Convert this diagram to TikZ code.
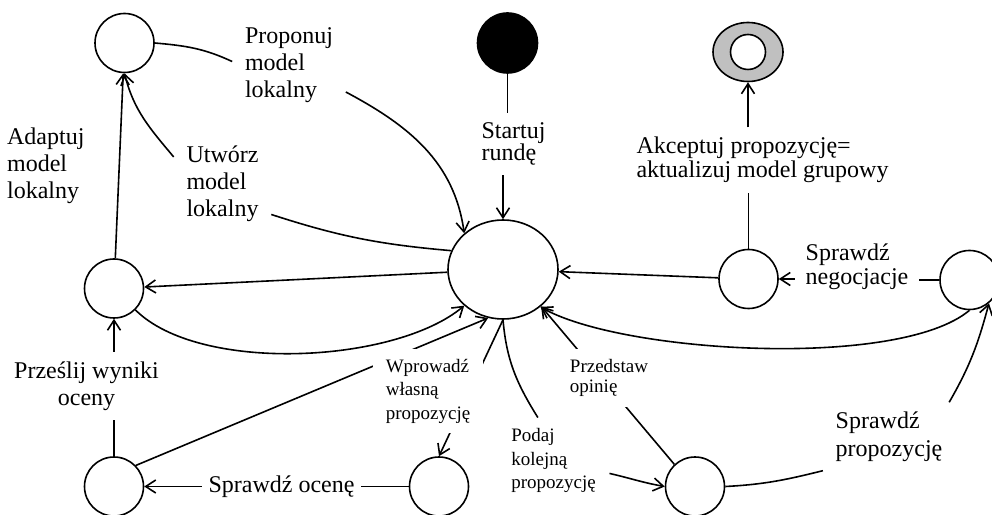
\documentclass[tikz,border=0pt]{standalone}
\usepackage{fontspec}
\setmainfont{Liberation Serif}
\usepackage{xcolor}
\usepackage{tikz}
\usetikzlibrary{arrows.meta,shapes.geometric}
\definecolor{Silver}{HTML}{C0C0C0}

\begin{document}
\begin{tikzpicture}[
    x=1pt,y=1pt,
    line width=1.6pt,
    state/.style={circle,draw,minimum size=59pt,inner sep=0pt},
    bigstate/.style={ellipse,draw,minimum width=110pt,minimum height=99pt,inner sep=0pt},
    startstate/.style={circle,draw,fill=black,minimum size=60pt,inner sep=0pt},
    endstate/.style={ellipse,draw,fill=Silver,minimum width=70pt,minimum height=59pt,inner sep=0pt},
    lbl/.style={align=left,font=\fontsize{24}{27}\selectfont,inner xsep=12pt,inner ysep=9pt},
    smalllbl/.style={align=left,font=\fontsize{19}{23.5}\selectfont,inner xsep=13pt,inner ysep=10pt,fill=white},
    arrow/.style={-{Straight Barb[length=10pt,width=13pt]}},
    plain/.style={-}
]
\useasboundingbox (0,0) rectangle (992,514);
\node[state] (A) at (124.5,471) {};
\node[startstate] (start) at (507.5,471) {};
\node[endstate] (endst) at (748,462) {};
\draw[fill=white] (endst.center) circle (17.5pt);
\node[bigstate] (big) at (503,244.5) {};
\node[state] (B) at (114,225.5) {};
\node[state] (C) at (114,27.5) {};
\node[state] (D) at (439,27.5) {};
\node[state] (E) at (695,27.5) {};
\node[state] (F) at (748.5,235) {};
\node[state] (G) at (969.5,234) {};
\node[lbl] (pplbl) at (289,448.5) {Proponuj\\model\\lokalny};
\node[lbl] (utlbl) at (222.5,330) {Utwórz\\model\\lokalny};
\node[lbl,font=\fontsize{24}{22}\selectfont] (srlbl) at (513.5,370) {Startuj\\rundę};
\node[lbl,font=\fontsize{24}{24}\selectfont] (aklbl) at (762.5,354) {Akceptuj propozycję=\\aktualizuj model grupowy};
\node[lbl,font=\fontsize{24}{24}\selectfont,inner xsep=10pt] (snlbl) at (857,247) {Sprawdź\\negocjacje};
\node[lbl,font=\fontsize{24}{28}\selectfont] (splbl) at (889,77) {Sprawdź\\propozycję};
\node[lbl,align=center] (prlbl) at (86.5,128) {Prześlij wyniki\\oceny};
\node[lbl,inner xsep=6pt] (solbl) at (281.5,27) {Sprawdź ocenę};
\node[smalllbl] (pklbl) at (553.5,53.5) {Podaj\\kolejną\\propozycję};
\draw[arrow] (B) -- node[lbl,left=22pt] (adlbl) {Adaptuj\\model\\lokalny} (A);
\draw[plain] (A.east) to[out=-5,in=155] (pplbl.176);
\draw[arrow] (pplbl.-25) to[out=-28,in=98] (big.137);
\draw[plain] (big.160) to[out=175,in=-18] (utlbl.-32);
\draw[arrow] (utlbl.151) to[out=130,in=-76] (A.south);
\draw[plain] (start) -- (start |- srlbl.north);
\draw[arrow] (srlbl.south -| big.north) -- (big.north);
\draw[arrow] (big) -- (B);
\draw[arrow] (B.-45) to[out=-45,in=-140,looseness=0.7] (big.-137);
\draw[plain] (C) -- (C |- prlbl.south);
\draw[arrow] (prlbl.north -| B.south) -- (B);
\draw[plain] (D) -- (D -| solbl.east);
\draw[arrow] (solbl.west |- C.east) -- (C);
\draw[arrow] (C.44) -- (big.-107);
\draw[arrow] (big.south) -- (D.north);
\node[smalllbl] (wplbl) at (428,123) {Wprowadź\\własną\\propozycję};
\draw[plain] (big.south) to[out=-85,in=122] (pklbl.110);
\draw[arrow] (pklbl.-13) to[out=-13,in=170] (E.west);
\draw[arrow] (E.133) -- (big.-44);
\node[smalllbl,font=\fontsize{19}{20}\selectfont] (polbl) at (609,136) {Przedstaw\\opinię};
\draw[plain] (E.east) to[out=3,in=-166] (splbl.-153);
\draw[arrow] (splbl.30) to[out=60,in=-105] (G.-50);
\draw[arrow] (G.south) to[out=220,in=-30,looseness=0.55] (big.-45);
\draw[plain] (G) -- (G -| snlbl.east);
\draw[arrow] (snlbl.west |- F.east) -- (F);
\draw[arrow] (F) -- (big);
\draw[plain] (F) -- (F |- aklbl.south);
\draw[arrow] (aklbl.north -| endst.south) -- (endst);
\end{tikzpicture}
\end{document}
